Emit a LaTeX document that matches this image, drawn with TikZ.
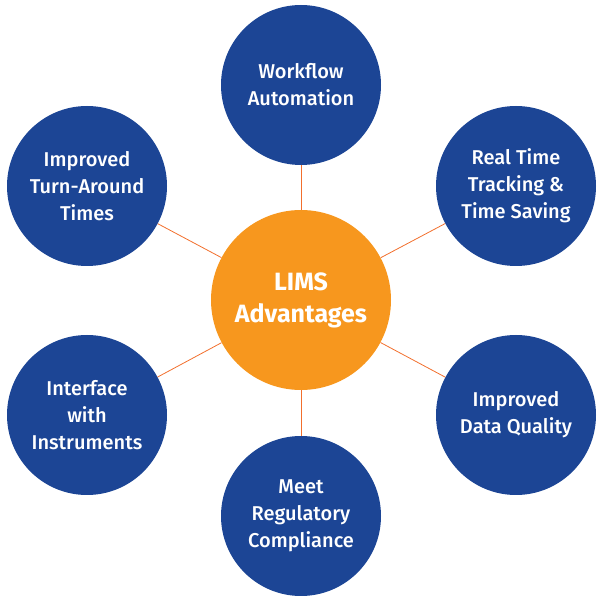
\documentclass[tikz,border=0pt]{standalone}
\usepackage{fontspec}
\setmainfont{Fira Sans}
\newfontfamily\satfont{Fira Sans Medium}
\definecolor{limsblue}{HTML}{1C4595}
\definecolor{limsorange}{HTML}{F7971E}
\definecolor{linkorange}{HTML}{F26F2D}

\begin{document}
\begin{tikzpicture}[x=1pt, y=1pt,
  sat/.style={circle, fill=limsblue, minimum size=160pt, inner sep=0pt,
    text=white, align=center, font=\satfont\fontsize{20}{27}\selectfont},
  hubnode/.style={circle, fill=limsorange, minimum size=180pt, inner sep=0pt,
    text=white, align=center, font=\bfseries\fontsize{25}{32}\selectfont},
  link/.style={linkorange, line width=0.8pt}]

  \useasboundingbox (0,0) rectangle (600,600);

  % Centre and the six advantages
  \node[hubnode] (hub) at (301,300) {LIMS\\Advantages};
  \node[sat] (workflow) at (301,515) {Workflow\\Automation};
  \node[sat] (turnaround) at (87,414) {Improved\\Turn-Around\\Times};
  \node[sat] (realtime) at (516,414) {Real Time\\Tracking \&\\Time Saving};
  \node[sat] (instruments) at (87,185) {Interface\\with\\Instruments};
  \node[sat] (quality) at (516,185) {Improved\\Data Quality};
  \node[sat] (regulatory) at (301,84) {Meet\\Regulatory\\Compliance};

  % Links
  \foreach \s in {workflow, turnaround, realtime, instruments, quality, regulatory}
    \draw[link] (hub) -- (\s);

\end{tikzpicture}
\end{document}
